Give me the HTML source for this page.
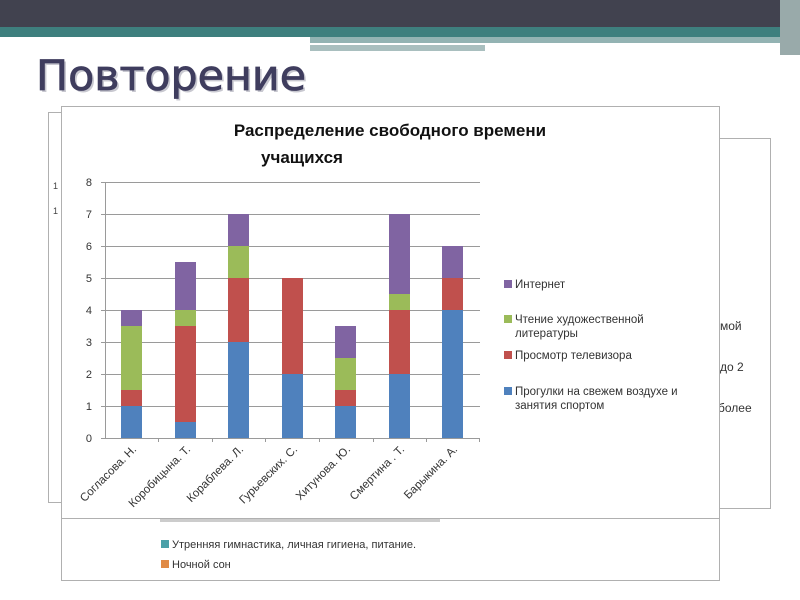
<!DOCTYPE html>
<html><head><meta charset="utf-8"><style>
html,body{margin:0;padding:0;background:#fff;}
svg{display:block;}
text{font-family:"Liberation Sans","DejaVu Sans",sans-serif;}
</style></head><body>
<svg width="800" height="600" viewBox="0 0 800 600" xmlns="http://www.w3.org/2000/svg">
<rect x="0" y="0" width="800" height="27" fill="#41424f"/>
<rect x="0" y="27" width="800" height="10" fill="#3e7f7e"/>
<rect x="310" y="37" width="490" height="6" fill="#93b3b3"/>
<rect x="310" y="45" width="175" height="6" fill="#a9bfbf"/>
<rect x="780" y="0" width="20" height="55" fill="#9aa"/>
<text x="38" y="92" font-size="42" fill="#c8c8d0" style="font-family:'DejaVu Sans','Liberation Sans',sans-serif" textLength="270" lengthAdjust="spacingAndGlyphs">Повторение</text>
<text x="36" y="90" font-size="42" fill="#3f3d5e" stroke="#3f3d5e" stroke-width="0.8" style="font-family:'DejaVu Sans','Liberation Sans',sans-serif" textLength="270" lengthAdjust="spacingAndGlyphs">Повторение</text>
<!-- back boxes -->
<rect x="48.5" y="112.5" width="20" height="390" fill="#fff" stroke="#b0b0b0"/>
<text x="53" y="189" font-size="9" fill="#444">1</text>
<text x="53" y="214" font-size="9" fill="#444">1</text>
<rect x="600.5" y="138.5" width="170" height="370" fill="#fff" stroke="#b0b0b0"/>
<text x="720" y="330" font-size="12" fill="#333">мой</text>
<text x="720" y="371" font-size="12" fill="#333">до 2</text>
<text x="718" y="412" font-size="12" fill="#333">более</text>
<!-- bottom box -->
<rect x="61.5" y="505.5" width="658" height="75" fill="#fff" stroke="#b0b0b0"/>
<rect x="161" y="540" width="8" height="8" fill="#4aa0a8"/>
<text x="172" y="548" font-size="11" fill="#333">Утренняя гимнастика, личная гигиена, питание.</text>
<rect x="161" y="560" width="8" height="8" fill="#e08a45"/>
<text x="172" y="568" font-size="11" fill="#333">Ночной сон</text>
<!-- main chart -->
<rect x="61.5" y="106.5" width="658" height="412" fill="#fff" stroke="#b0b0b0"/>
<rect x="160" y="519" width="280" height="3" fill="#ccc"/>
<text x="390" y="136" font-size="17" font-weight="bold" text-anchor="middle" fill="#111">Распределение свободного времени</text>
<text x="302" y="163" font-size="17" font-weight="bold" text-anchor="middle" fill="#111">учащихся</text>
<g stroke="#9a9a9a" stroke-width="1">
<line x1="105" y1="182.5" x2="480" y2="182.5"/>
<line x1="105" y1="214.5" x2="480" y2="214.5"/>
<line x1="105" y1="246.5" x2="480" y2="246.5"/>
<line x1="105" y1="278.5" x2="480" y2="278.5"/>
<line x1="105" y1="310.5" x2="480" y2="310.5"/>
<line x1="105" y1="342.5" x2="480" y2="342.5"/>
<line x1="105" y1="374.5" x2="480" y2="374.5"/>
<line x1="105" y1="406.5" x2="480" y2="406.5"/>
<line x1="105" y1="438.5" x2="480" y2="438.5"/>
<line x1="105.5" y1="182" x2="105.5" y2="438"/>
</g>
<g stroke="#9a9a9a">
<line x1="101" y1="182.5" x2="105" y2="182.5"/><line x1="101" y1="214.5" x2="105" y2="214.5"/><line x1="101" y1="246.5" x2="105" y2="246.5"/><line x1="101" y1="278.5" x2="105" y2="278.5"/><line x1="101" y1="310.5" x2="105" y2="310.5"/><line x1="101" y1="342.5" x2="105" y2="342.5"/><line x1="101" y1="374.5" x2="105" y2="374.5"/><line x1="101" y1="406.5" x2="105" y2="406.5"/><line x1="101" y1="438.5" x2="105" y2="438.5"/>
<line x1="158.5" y1="438" x2="158.5" y2="442"/><line x1="212.5" y1="438" x2="212.5" y2="442"/><line x1="265.5" y1="438" x2="265.5" y2="442"/><line x1="319.5" y1="438" x2="319.5" y2="442"/><line x1="373.5" y1="438" x2="373.5" y2="442"/><line x1="426.5" y1="438" x2="426.5" y2="442"/><line x1="479.5" y1="438" x2="479.5" y2="442"/>
</g>
<g font-size="11" fill="#333" text-anchor="end">
<text x="92" y="186">8</text><text x="92" y="218">7</text><text x="92" y="250">6</text><text x="92" y="282">5</text><text x="92" y="314">4</text><text x="92" y="346">3</text><text x="92" y="378">2</text><text x="92" y="410">1</text><text x="92" y="442">0</text>
</g>
<g>
<rect x="121" y="406" width="21" height="32" fill="#4f81bd"/>
<rect x="121" y="390" width="21" height="16" fill="#c0504d"/>
<rect x="121" y="326" width="21" height="64" fill="#9bbb59"/>
<rect x="121" y="310" width="21" height="16" fill="#8064a2"/>
<rect x="175" y="422" width="21" height="16" fill="#4f81bd"/>
<rect x="175" y="326" width="21" height="96" fill="#c0504d"/>
<rect x="175" y="310" width="21" height="16" fill="#9bbb59"/>
<rect x="175" y="262" width="21" height="48" fill="#8064a2"/>
<rect x="228" y="342" width="21" height="96" fill="#4f81bd"/>
<rect x="228" y="278" width="21" height="64" fill="#c0504d"/>
<rect x="228" y="246" width="21" height="32" fill="#9bbb59"/>
<rect x="228" y="214" width="21" height="32" fill="#8064a2"/>
<rect x="282" y="374" width="21" height="64" fill="#4f81bd"/>
<rect x="282" y="278" width="21" height="96" fill="#c0504d"/>
<rect x="335" y="406" width="21" height="32" fill="#4f81bd"/>
<rect x="335" y="390" width="21" height="16" fill="#c0504d"/>
<rect x="335" y="358" width="21" height="32" fill="#9bbb59"/>
<rect x="335" y="326" width="21" height="32" fill="#8064a2"/>
<rect x="389" y="374" width="21" height="64" fill="#4f81bd"/>
<rect x="389" y="310" width="21" height="64" fill="#c0504d"/>
<rect x="389" y="294" width="21" height="16" fill="#9bbb59"/>
<rect x="389" y="214" width="21" height="80" fill="#8064a2"/>
<rect x="442" y="310" width="21" height="128" fill="#4f81bd"/>
<rect x="442" y="278" width="21" height="32" fill="#c0504d"/>
<rect x="442" y="246" width="21" height="32" fill="#8064a2"/>
</g>
<g font-size="11.5" fill="#333" text-anchor="end">
<text transform="translate(137,450) rotate(-45)">Согласова. Н.</text>
<text transform="translate(191,450) rotate(-45)">Коробицына. Т.</text>
<text transform="translate(244,450) rotate(-45)">Кораблева. Л.</text>
<text transform="translate(298,450) rotate(-45)">Гурьевских. С.</text>
<text transform="translate(351,450) rotate(-45)">Хитунова. Ю.</text>
<text transform="translate(405,450) rotate(-45)">Смертина . Т.</text>
<text transform="translate(458,450) rotate(-45)">Барыкина. А.</text>
</g>
<g font-size="11.5" fill="#333">
<rect x="504" y="280" width="8" height="8" fill="#8064a2"/><text x="515" y="288">Интернет</text>
<rect x="504" y="315" width="8" height="8" fill="#9bbb59"/><text x="515" y="323">Чтение художественной</text><text x="515" y="337">литературы</text>
<rect x="504" y="351" width="8" height="8" fill="#c0504d"/><text x="515" y="359">Просмотр телевизора</text>
<rect x="504" y="387" width="8" height="8" fill="#4f81bd"/><text x="515" y="395">Прогулки на свежем воздухе и</text><text x="515" y="409">занятия спортом</text>
</g>
</svg>
</body></html>
